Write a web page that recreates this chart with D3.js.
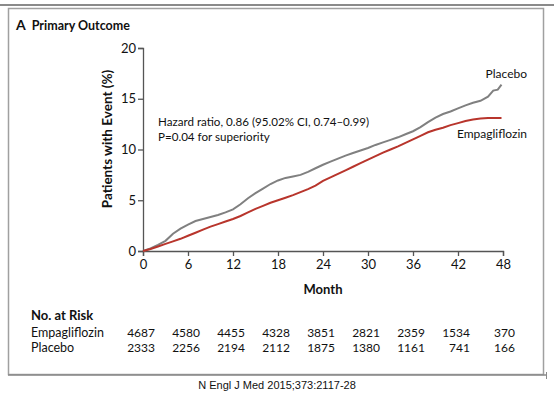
<!DOCTYPE html>
<html><head><meta charset="utf-8">
<script src="https://cdn.jsdelivr.net/npm/d3@7"></script>
<style>
body{margin:0;background:#fff;}
svg{display:block;font-family:"Lato","Open Sans",sans-serif;}
</style></head>
<body>
<svg id="chart" width="554" height="397"></svg>
<script>
const placeboMonths = [0,1,2,3,4,5,6,7,8,9,10,11,12,13,14,15,16,17,18,19,20,21,22,23,24,25,26,27,28,29,30,31,32,33,34,35,36,37,38,39,40,41,42,43,44,45,46,46.7,47.3,47.8];
const placeboPct =    [0,0.25,0.6,1.0,1.7,2.2,2.6,2.95,3.15,3.35,3.55,3.8,4.1,4.6,5.2,5.7,6.15,6.6,6.95,7.2,7.35,7.5,7.8,8.15,8.5,8.8,9.1,9.4,9.65,9.9,10.15,10.45,10.7,10.95,11.2,11.5,11.8,12.2,12.7,13.15,13.5,13.75,14.05,14.35,14.6,14.8,15.2,15.8,15.9,16.4];
const empaMonths = [0,1,2,3,4,5,6,7,8,9,10,11,12,13,14,15,16,17,18,19,20,21,22,23,24,25,26,27,28,29,30,31,32,33,34,35,36,37,38,39,40,41,42,43,44,45,46,47.8];
const empaPct =    [0,0.2,0.45,0.7,0.95,1.2,1.5,1.8,2.1,2.4,2.65,2.9,3.15,3.45,3.8,4.15,4.45,4.75,5.0,5.25,5.5,5.8,6.1,6.45,6.9,7.25,7.6,7.95,8.3,8.65,9.0,9.35,9.7,10.0,10.3,10.65,11.0,11.35,11.7,11.95,12.15,12.4,12.6,12.8,12.95,13.05,13.1,13.1];
const xTicks = [0,6,12,18,24,30,36,42,48];
const yTicks = [0,5,10,15,20];
const riskEmpa = ["4687","4580","4455","4328","3851","2821","2359","1534","370"];
const riskPlacebo = ["2333","2256","2194","2112","1875","1380","1161","741","166"];
const seriesNames = ["Placebo","Empagliflozin"];

const svg = d3.select("#chart");
const x = d3.scaleLinear().domain([0,48]).range([143,503]);
const y = d3.scaleLinear().domain([0,20]).range([251,48]);

// frame
svg.append("line").attr("x1",0).attr("x2",554).attr("y1",5).attr("y2",5).attr("stroke","#8a8a8a").attr("stroke-width",2);
svg.append("rect").attr("x",8.5).attr("y",8.5).attr("width",535).attr("height",366).attr("fill","none").attr("stroke","#a0a0a0").attr("stroke-width",1.5);
svg.append("line").attr("x1",8).attr("x2",547).attr("y1",375).attr("y2",375).attr("stroke","#8a8a8a").attr("stroke-width",1.5);
svg.append("line").attr("x1",546.5).attr("x2",546.5).attr("y1",372).attr("y2",379).attr("stroke","#8a8a8a").attr("stroke-width",1);

// title
const t = svg.append("text").attr("x",16).attr("y",30).attr("font-weight","bold").attr("fill","#111");
t.append("tspan").attr("font-size",14).text("A");
t.append("tspan").attr("dx",6).attr("font-size",12.5).text("Primary Outcome");

// axes
const yAxis = svg.append("g").attr("transform","translate(143,0)")
  .call(d3.axisLeft(y).tickValues(yTicks).tickSize(5).tickPadding(2));
const xAxis = svg.append("g").attr("transform","translate(0,251)")
  .call(d3.axisBottom(x).tickValues(xTicks).tickSize(5).tickPadding(4));
[yAxis,xAxis].forEach(g=>{
  g.select(".domain").attr("stroke","#555").attr("stroke-width",1.3);
  g.selectAll(".tick line").attr("stroke","#555").attr("stroke-width",1.3);
  g.selectAll(".tick text").attr("font-size",13).attr("font-family","Lato, sans-serif").attr("fill","#111");
});

svg.append("text").attr("transform","translate(112,139) rotate(-90)").attr("text-anchor","middle")
  .attr("font-size",13.5).attr("font-weight","bold").attr("fill","#111").text("Patients with Event (%)");
svg.append("text").attr("x",x(24)).attr("y",294).attr("text-anchor","middle")
  .attr("font-size",13).attr("font-weight","bold").attr("fill","#111").text("Month");

// curves
const line = d3.line().x(d=>x(d[0])).y(d=>y(d[1])).curve(d3.curveLinear);
const plData = placeboMonths.map((m,i)=>[m,placeboPct[i]]);
const emData = empaMonths.map((m,i)=>[m,empaPct[i]]);
svg.append("path").attr("d",line(plData)).attr("fill","none").attr("stroke","#808080").attr("stroke-width",2);
svg.append("path").attr("d",line(emData)).attr("fill","none").attr("stroke","#b8352c").attr("stroke-width",2);

// labels
svg.append("text").attr("x",527).attr("y",78).attr("text-anchor","end").attr("font-size",12).attr("fill","#111").text(seriesNames[0]);
svg.append("text").attr("x",527).attr("y",138).attr("text-anchor","end").attr("font-size",12).attr("fill","#111").text(seriesNames[1]);

svg.append("text").attr("x",158).attr("y",126).attr("font-size",11.6).attr("fill","#111").text("Hazard ratio, 0.86 (95.02% CI, 0.74–0.99)");
svg.append("text").attr("x",158).attr("y",141).attr("font-size",11.6).attr("fill","#111").text("P=0.04 for superiority");

// risk table
svg.append("text").attr("x",31).attr("y",320).attr("font-size",13).attr("font-weight","bold").attr("fill","#111").text("No. at Risk");
svg.append("text").attr("x",31).attr("y",337).attr("font-size",12.5).attr("fill","#111").text(seriesNames[1]);
svg.append("text").attr("x",31).attr("y",352).attr("font-size",12.5).attr("fill","#111").text(seriesNames[0]);
svg.append("g").selectAll("text").data(riskEmpa).join("text")
  .attr("x",(d,i)=>x(xTicks[i])+12).attr("y",337).attr("text-anchor","end").attr("font-size",12).attr("fill","#111").text(d=>d);
svg.append("g").selectAll("text").data(riskPlacebo).join("text")
  .attr("x",(d,i)=>x(xTicks[i])+12).attr("y",352).attr("text-anchor","end").attr("font-size",12).attr("fill","#111").text(d=>d);

// citation
svg.append("text").attr("x",277).attr("y",389).attr("text-anchor","middle").attr("font-size",11)
  .attr("font-family","Liberation Sans, sans-serif").attr("fill","#111").text("N Engl J Med 2015;373:2117-28");
</script>
</body></html>
